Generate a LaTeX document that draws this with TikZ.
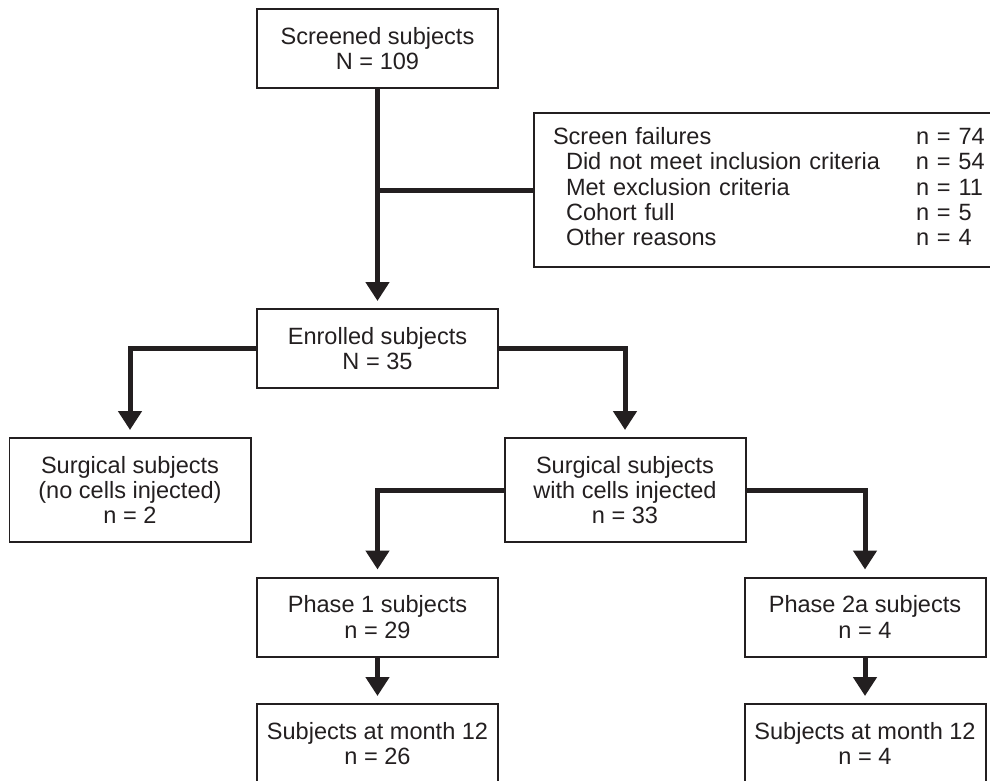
\documentclass[tikz,border=0pt]{standalone}
\usepackage{fontspec}
\setmainfont{Liberation Sans}
\usepackage{xcolor}
\usetikzlibrary{arrows.meta}
\definecolor{ink}{HTML}{231F20}

\begin{document}
\begin{tikzpicture}[node distance=6cm, auto,
    font=\fontsize{13.4pt}{14.4pt}\selectfont, text=ink,
    box/.style={draw=ink, line width=0.04cm, rectangle, minimum width=4.82cm, minimum height=1.58cm, align=center, inner sep=0pt},
    tallbox/.style={box, minimum height=2.08cm},
    flow/.style={draw=ink, line width=0.1cm, -{Triangle[width=0.46cm, length=0.38cm]}, shorten >=0.14cm},
    link/.style={draw=ink, line width=0.1cm}]
    \useasboundingbox (0,0) rectangle (19.8,-15.62);
    \clip (0,0) rectangle (19.8,-15.62);

    \node [box] (screened) at (7.55,-0.97) {Screened subjects\\N = 109};
    \node [box, below of=screened] (enrolled) {Enrolled subjects\\N = 35};
    \node [box, anchor=west, minimum width=9.6cm, minimum height=3.08cm, text width=8.84cm, align=left, inner xsep=0.38cm] (fail) at (10.66,-3.8)
          {\begin{tabular}{@{}p{7.26cm}@{}l@{}}
           Screen failures & n = 74\\
           \hspace*{0.26cm}Did not meet inclusion criteria & n = 54\\
           \hspace*{0.26cm}Met exclusion criteria & n = 11\\
           \hspace*{0.26cm}Cohort full & n = 5\\
           \hspace*{0.26cm}Other reasons & n = 4
           \end{tabular}};

    \node [tallbox, below of=enrolled, node distance=2.83cm, xshift=-4.95cm] (nocells) {Surgical subjects\\(no cells injected)\\n = 2};
    \node [tallbox, below of=enrolled, node distance=2.83cm, xshift=4.95cm] (cells) {Surgical subjects\\with cells injected\\n = 33};

    \node [box, below of=cells, node distance=2.54cm, xshift=-4.95cm] (phase1) {Phase 1 subjects\\n = 29};
    \node [box, below of=cells, node distance=2.54cm, xshift=4.8cm] (phase2) {Phase 2a subjects\\n = 4};
    \node [box, below of=phase1, node distance=2.53cm] (month1) {Subjects at month 12\\n = 26};
    \node [box, below of=phase2, node distance=2.53cm] (month2) {Subjects at month 12\\n = 4};

    \draw [flow] (screened) -- (enrolled);
    \draw [link] (screened |- fail.west) -- (fail.west);
    \draw [flow] (enrolled.west) -| (nocells.north);
    \draw [flow] (enrolled.east) -| (cells.north);
    \draw [flow] (cells.west) -| (phase1.north);
    \draw [flow] (cells.east) -| (phase2.north);
    \draw [flow] (phase1) -- (month1);
    \draw [flow] (phase2) -- (month2);
\end{tikzpicture}
\end{document}
